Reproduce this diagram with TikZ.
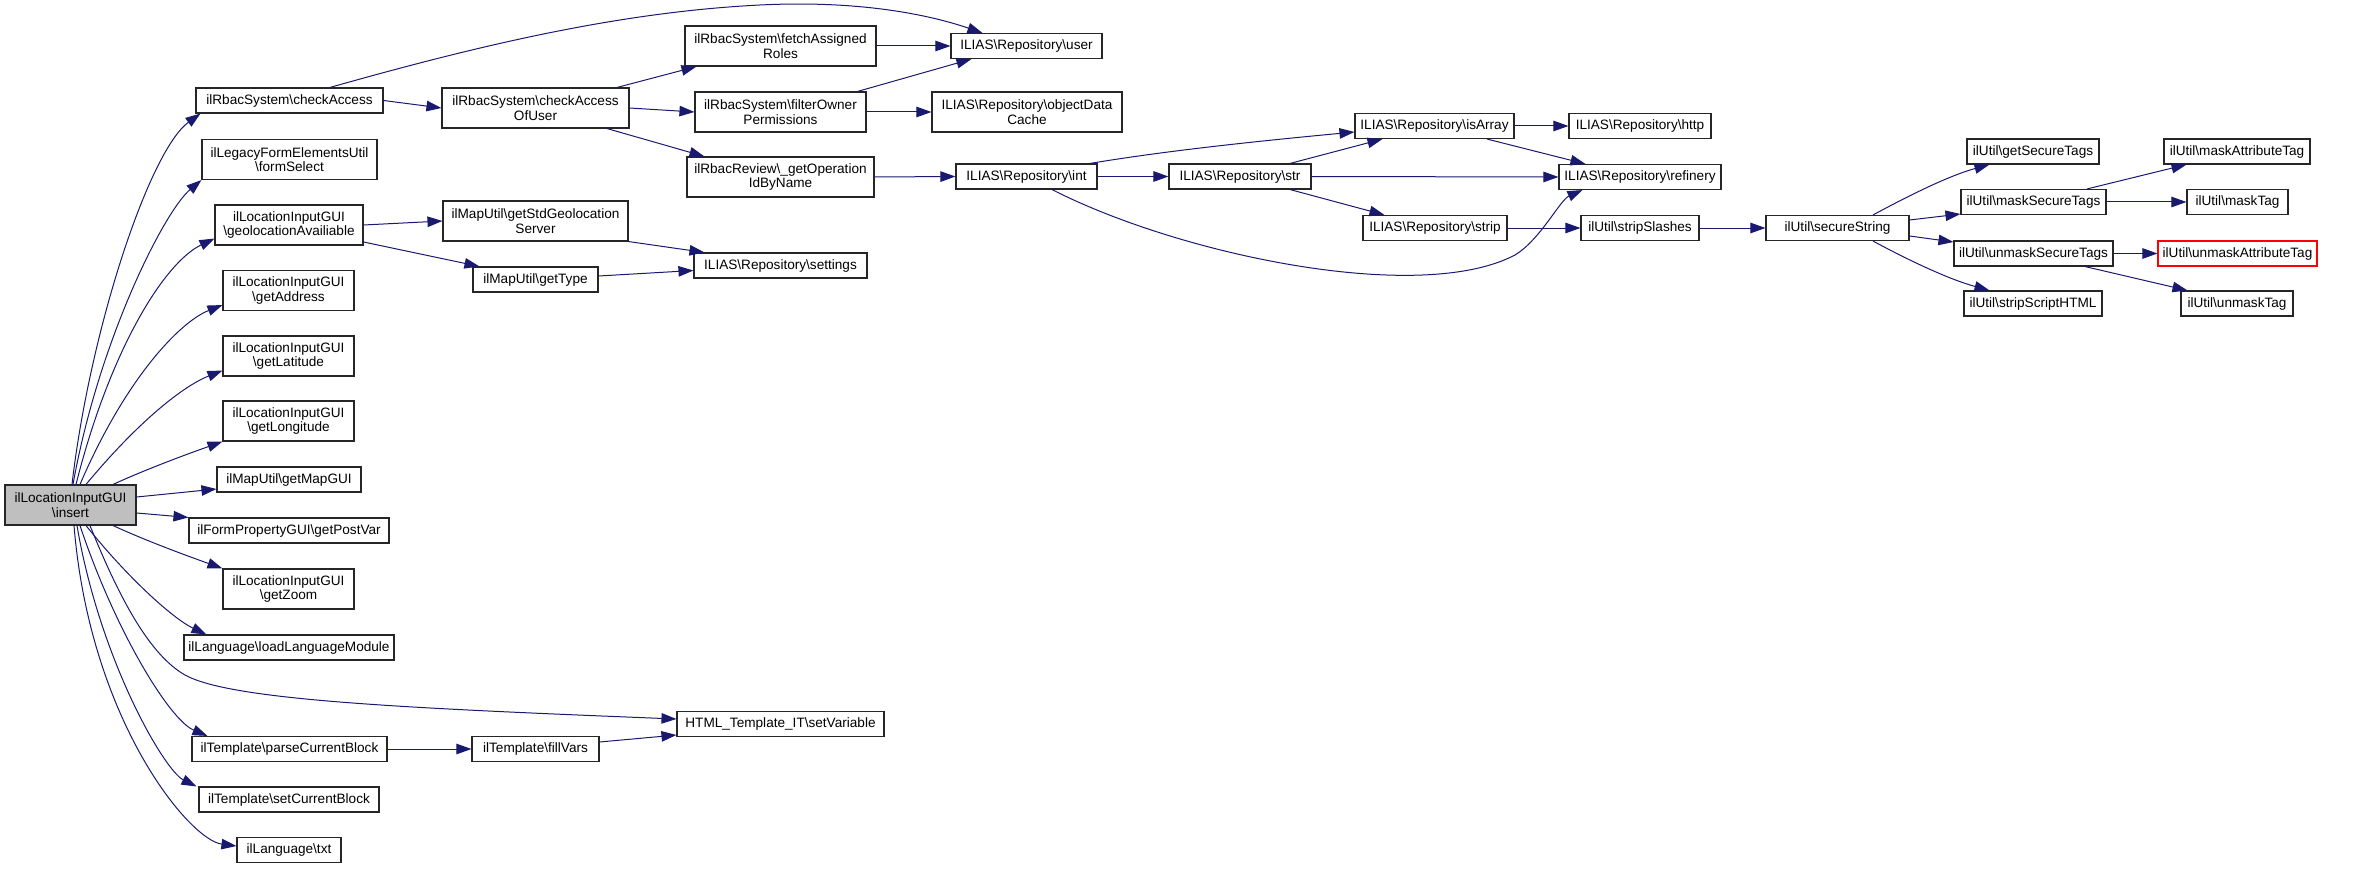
\documentclass[tikz,border=0pt]{standalone}
\usepackage{fontspec}
\setmainfont{Liberation Sans}
\usepackage{tikz}
\usetikzlibrary{arrows.meta}
\definecolor{edgeblue}{RGB}{25,25,112}
\definecolor{selgray}{RGB}{191,191,191}
\tikzset{%
    fn/.style={draw=black!85, line width=1.1pt, fill=white, rectangle, inner sep=0pt,
        minimum height=25, align=center, font=\fontsize{13.6}{14.3}\selectfont},
    fn2/.style={fn, minimum height=40},
    call/.style={draw=edgeblue, line width=1pt, -{Triangle[length=15pt,width=10.5pt]}}
}
\newcommand{\bs}{\textbackslash}

\begin{document}
\begin{tikzpicture}[x=1pt,y=-1pt]
	\useasboundingbox (0,0) rectangle (2355,869);
	% root
	\node[fn2, fill=selgray, minimum width=131] (insert) at (70.5,505) {ilLocationInputGUI\\\bs insert};
	% first level
	\node[fn, minimum width=187] (checkAccess) at (289.5,100.5) {ilRbacSystem\bs checkAccess};
	\node[fn2, minimum width=175] (formSelect) at (289.5,159.5) {ilLegacyFormElementsUtil\\\bs formSelect};
	\node[fn2, minimum width=148] (geoAvail) at (289,225) {ilLocationInputGUI\\\bs geolocationAvailiable};
	\node[fn2, minimum width=131] (getAddress) at (288.5,290.5) {ilLocationInputGUI\\\bs getAddress};
	\node[fn2, minimum width=131] (getLatitude) at (288.5,356) {ilLocationInputGUI\\\bs getLatitude};
	\node[fn2, minimum width=131] (getLongitude) at (288.5,421) {ilLocationInputGUI\\\bs getLongitude};
	\node[fn, minimum width=144] (getMapGUI) at (289,479.5) {ilMapUtil\bs getMapGUI};
	\node[fn, minimum width=200] (getPostVar) at (289,530.5) {ilFormPropertyGUI\bs getPostVar};
	\node[fn2, minimum width=131] (getZoom) at (288.5,589) {ilLocationInputGUI\\\bs getZoom};
	\node[fn, minimum width=210] (loadLang) at (289,647.5) {ilLanguage\bs loadLanguageModule};
	\node[fn, minimum width=195] (parseBlock) at (289.5,749) {ilTemplate\bs parseCurrentBlock};
	\node[fn, minimum width=180] (setBlock) at (289,799.5) {ilTemplate\bs setCurrentBlock};
	\node[fn, minimum width=104] (txt) at (289,850) {ilLanguage\bs txt};
	% second level
	\node[fn2, minimum width=187] (accessOfUser) at (535.5,108) {ilRbacSystem\bs checkAccess\\OfUser};
	\node[fn2, minimum width=185] (stdGeoServer) at (535.5,221) {ilMapUtil\bs getStdGeolocation\\Server};
	\node[fn, minimum width=125] (getType) at (535.5,279.5) {ilMapUtil\bs getType};
	\node[fn, minimum width=127] (fillVars) at (535.5,749) {ilTemplate\bs fillVars};
	% third level
	\node[fn2, minimum width=191] (fetchRoles) at (780.5,46) {ilRbacSystem\bs fetchAssigned\\Roles};
	\node[fn2, minimum width=171] (filterOwner) at (780.5,112) {ilRbacSystem\bs filterOwner\\Permissions};
	\node[fn2, minimum width=187] (opIdByName) at (780.5,177) {ilRbacReview\bs\_getOperation\\IdByName};
	\node[fn, minimum width=173] (settings) at (780.5,265.5) {ILIAS\bs Repository\bs settings};
	\node[fn, minimum width=207] (setVariable) at (780.5,724) {HTML\_Template\_IT\bs setVariable};
	% repository
	\node[fn, minimum width=151] (user) at (1026.5,46) {ILIAS\bs Repository\bs user};
	\node[fn2, minimum width=190] (objCache) at (1027,112) {ILIAS\bs Repository\bs objectData\\Cache};
	\node[fn, minimum width=141] (int) at (1026.5,176.5) {ILIAS\bs Repository\bs int};
	\node[fn, minimum width=142] (str) at (1240,176.5) {ILIAS\bs Repository\bs str};
	\node[fn, minimum width=159] (isArray) at (1434.5,126) {ILIAS\bs Repository\bs isArray};
	\node[fn, minimum width=144] (strip) at (1435,228) {ILIAS\bs Repository\bs strip};
	\node[fn, minimum width=142] (http) at (1640,126) {ILIAS\bs Repository\bs http};
	\node[fn, minimum width=162] (refinery) at (1640,177) {ILIAS\bs Repository\bs refinery};
	\node[fn, minimum width=118] (stripSlashes) at (1640,228) {ilUtil\bs stripSlashes};
	% ilUtil
	\node[fn, minimum width=143] (secureString) at (1837.5,228) {ilUtil\bs secureString};
	\node[fn, minimum width=132] (getSecureTags) at (2033,151.5) {ilUtil\bs getSecureTags};
	\node[fn, minimum width=145] (maskSecure) at (2033.5,202) {ilUtil\bs maskSecureTags};
	\node[fn, minimum width=159] (unmaskSecure) at (2033.5,253.5) {ilUtil\bs unmaskSecureTags};
	\node[fn, minimum width=138] (stripScript) at (2033,303.5) {ilUtil\bs stripScriptHTML};
	\node[fn, minimum width=146] (maskAttr) at (2237,151.5) {ilUtil\bs maskAttributeTag};
	\node[fn, minimum width=101] (maskTag) at (2237.5,202) {ilUtil\bs maskTag};
	\node[fn, draw=red, minimum width=159] (unmaskAttr) at (2237.5,253.5) {ilUtil\bs unmaskAttributeTag};
	\node[fn, minimum width=112] (unmaskTag) at (2237,303.5) {ilUtil\bs unmaskTag};

	% calls from insert
	\draw[call] ([xshift=1.5]insert.north) .. controls +(18,-155) and +(-51,37) .. ([xshift=5]checkAccess.south west);
	\draw[call] ([xshift=2.5]insert.north) .. controls +(26,-145) and +(-37,31) .. (formSelect.south west);
	\draw[call] ([xshift=5.5]insert.north) .. controls +(34,-135) and +(-50,24) .. ([yshift=7]geoAvail.south west);
	\draw[call] ([xshift=9.5]insert.north) .. controls +(45,-105) and +(-43,17) .. ([yshift=6]getAddress.south west);
	\draw[call] ([xshift=15.5]insert.north) .. controls +(54,-65) and +(-38,15) .. ([yshift=6]getLatitude.south west);
	\draw[call] ([xshift=42.5]insert.north) .. controls +(37,-17) and +(-28,10) .. (getLongitude.south west);
	\draw[call] ([yshift=8]insert.east) -- ([yshift=-9.5]getMapGUI.west);
	\draw[call] ([yshift=-8]insert.east) -- (getPostVar.north west);
	\draw[call] ([xshift=42.5]insert.south) .. controls +(37,17) and +(-28,-10) .. (getZoom.north west);
	\draw[call] ([xshift=15.5]insert.south) .. controls +(44,55) and +(-32,-15) .. ([xshift=23]loadLang.north west);
	\draw[call] ([xshift=19.5]insert.south) .. controls (120,600) and (150,655) .. (185,675)
		.. controls (230,700) and (400,708) .. ([yshift=5]setVariable.west);
	\draw[call] ([xshift=9.5]insert.south) .. controls +(35,105) and +(-38,-16) .. ([xshift=16]parseBlock.north west);
	\draw[call] ([xshift=6.5]insert.south) .. controls +(23,135) and +(-32,-16) .. ([xshift=-2]setBlock.north west);
	\draw[call] ([xshift=3.5]insert.south) .. controls +(16,195) and +(-47,-6) .. ([yshift=4]txt.west);

	% rbac
	\draw[call] ([xshift=40.5]checkAccess.north) .. controls (480,45) and (620,12) .. (760,5)
		.. controls (860,0) and (930,15) .. ([xshift=32]user.north west);
	\draw[call] (checkAccess.east) -- (accessOfUser.west);
	\draw[call] ([xshift=81.5]accessOfUser.north) -- ([xshift=12]fetchRoles.south west);
	\draw[call] (accessOfUser.east) -- (filterOwner.west);
	\draw[call] ([xshift=71.5]accessOfUser.south) -- ([xshift=18]opIdByName.north west);
	\draw[call] (fetchRoles.east) -- (user.west);
	\draw[call] ([xshift=-9]filterOwner.north east) -- ([xshift=21]user.south west);
	\draw[call] (filterOwner.east) -- (objCache.west);
	\draw[call] (opIdByName.east) -- (int.west);

	% map
	\draw[call] (geoAvail.east) -- (stdGeoServer.west);
	\draw[call] ([yshift=-17]geoAvail.east) -- ([xshift=7]getType.north west);
	\draw[call] (stdGeoServer.south east) -- ([xshift=11]settings.north west);
	\draw[call] ([yshift=3.5]getType.east) -- ([yshift=-5]settings.west);

	% template
	\draw[call] (parseBlock.east) -- (fillVars.west);
	\draw[call] ([yshift=7]fillVars.east) -- ([yshift=-11]setVariable.west);

	% repository
	\draw[call] ([xshift=63.5]int.north) .. controls (1170,150) and (1270,140) .. ([yshift=-6]isArray.west);
	\draw[call] (int.east) -- (str.west);
	\draw[call] ([xshift=25.5]int.south) .. controls (1180,255) and (1420,305) .. (1515,255)
		.. controls (1540,240) and (1560,200) .. ([xshift=24]refinery.south west);
	\draw[call] ([xshift=50]str.north) -- ([xshift=28]isArray.south west);
	\draw[call] (str.east) -- (refinery.west);
	\draw[call] ([xshift=50]str.south) -- ([xshift=22]strip.north west);
	\draw[call] (isArray.east) -- (http.west);
	\draw[call] ([xshift=52.5]isArray.south) -- ([xshift=27]refinery.north west);
	\draw[call] (strip.east) -- (stripSlashes.west);
	\draw[call] (stripSlashes.east) -- (secureString.west);

	% ilUtil
	\draw[call] ([xshift=35.5]secureString.north) .. controls +(37,-20) and +(-40,11) .. ([xshift=23]getSecureTags.south west);
	\draw[call] ([yshift=8]secureString.east) -- ([yshift=-12]maskSecure.west);
	\draw[call] ([yshift=-8]secureString.east) -- ([yshift=11.5]unmaskSecure.west);
	\draw[call] ([xshift=35.5]secureString.south) .. controls +(37,20) and +(-40,-11) .. ([xshift=26]stripScript.north west);
	\draw[call] ([xshift=53.5]maskSecure.north) -- ([xshift=23]maskAttr.south west);
	\draw[call] (maskSecure.east) -- (maskTag.west);
	\draw[call] (unmaskSecure.east) -- (unmaskAttr.west);
	\draw[call] ([xshift=51.5]unmaskSecure.south) -- ([xshift=7]unmaskTag.north west);
\end{tikzpicture}
\end{document}
